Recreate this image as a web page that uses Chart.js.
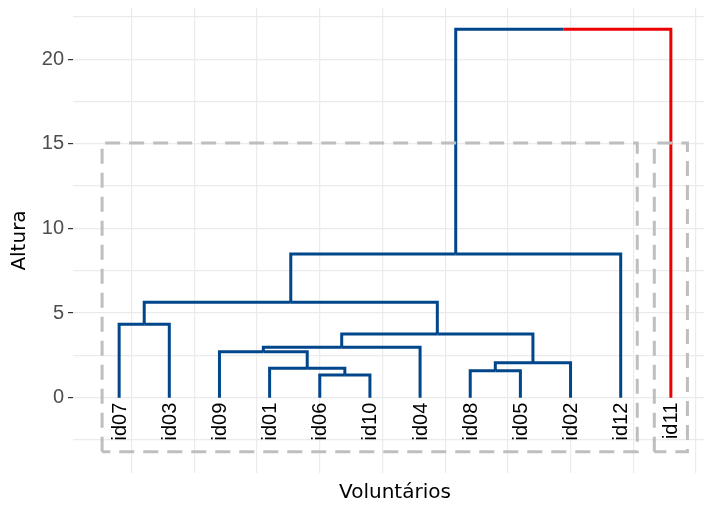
<!DOCTYPE html>
<html>
<head>
<meta charset="utf-8">
<title>Dendrograma</title>
<script src="https://cdn.jsdelivr.net/npm/chart.js@4.4.1/dist/chart.umd.min.js"></script>
<style>
  html, body { margin: 0; padding: 0; background: #ffffff; overflow: hidden; width: 704px; height: 505px; }
  #wrap { width: 717px; height: 505px; }
</style>
</head>
<body>
<div id="wrap"><canvas id="dend" width="717" height="505"></canvas></div>
<script>
// Leaves in dendrogram order (position 1..12 on the x axis)
const leafLabels = ['id07', 'id03', 'id09', 'id01', 'id06', 'id10', 'id04', 'id08', 'id05', 'id02', 'id12', 'id11'];
// Cluster of each leaf (k = 2)
const leafCluster = [0, 0, 0, 0, 0, 0, 0, 0, 0, 0, 0, 1];
const clusterColors = ['#00468B', '#ED0000'];

// Merge table, hclust style: negative = leaf position, positive = earlier merge row (1-based)
const mergeLeft   = [-5, -8, -4,   2, -3,  5,  6, -1,  8,  9,  10];
const mergeRight  = [-6, -9,  1, -10,  3, -7,  4, -2,  7, -11, -12];
const mergeHeight = [1.34, 1.59, 1.74, 2.07, 2.72, 2.98, 3.76, 4.34, 5.63, 8.49, 21.76];

// Cluster rectangles (data units)
const rectLeft   = [0.66, 11.67];
const rectRight  = [11.33, 12.33];
const rectTop    = [15.05, 15.05];
const rectBottom = [-3.2, -3.2];

// Axis ticks / grid positions
const yTicks = [-2.5, 0, 2.5, 5, 7.5, 10, 12.5, 15, 17.5, 20, 22.5];
const xGrid = [1.25, 2.5, 3.75, 5, 6.25, 7.5, 8.75, 10, 11.25, 12.5];

// Value at which the leaf labels end (just under the leaves)
const labelAnchor = -0.3;

// ---- build the dendrogram segments from the merge table ----
const nodePos = [], nodeH = [], nodeCol = [];
function child(ref) {
  if (ref < 0) {
    const i = -ref;
    return { x: i, h: 0, col: clusterColors[leafCluster[i - 1]] };
  }
  return { x: nodePos[ref - 1], h: nodeH[ref - 1], col: nodeCol[ref - 1] };
}

const branchSets = [];
for (let k = 0; k < mergeHeight.length; k++) {
  const a = child(mergeLeft[k]);
  const b = child(mergeRight[k]);
  const h = mergeHeight[k];
  const mid = (a.x + b.x) / 2;
  nodePos.push(mid);
  nodeH.push(h);
  nodeCol.push(a.col === b.col ? a.col : null);
  branchSets.push({
    data: [{ x: a.x, y: a.h }, { x: a.x, y: h }, { x: mid, y: h }],
    borderColor: a.col || clusterColors[0]
  });
  branchSets.push({
    data: [{ x: mid, y: h }, { x: b.x, y: h }, { x: b.x, y: b.h }],
    borderColor: b.col || clusterColors[0]
  });
}

const rectSets = rectLeft.map((l, i) => ({
  data: [
    { x: l, y: rectBottom[i] }, { x: l, y: rectTop[i] },
    { x: rectRight[i], y: rectTop[i] }, { x: rectRight[i], y: rectBottom[i] },
    { x: l, y: rectBottom[i] }
  ],
  borderColor: '#BEBEBE',
  borderWidth: 3,
  borderDash: [15, 9],
  borderCapStyle: 'butt',
  borderJoinStyle: 'miter'
}));

const datasets = [
  ...rectSets,
  ...branchSets.map(d => Object.assign(d, {
    borderWidth: 3,
    borderCapStyle: 'butt',
    borderJoinStyle: 'miter'
  }))
];

// Leaf labels, rotated, hanging below each leaf
const leafLabelPlugin = {
  id: 'leafLabels',
  afterDatasetsDraw(chart) {
    const { ctx, scales: { x, y } } = chart;
    ctx.save();
    ctx.font = '20px "Liberation Sans", Arial, sans-serif';
    ctx.fillStyle = '#000000';
    ctx.textAlign = 'right';
    ctx.textBaseline = 'middle';
    leafLabels.forEach((lab, i) => {
      ctx.save();
      ctx.translate(x.getPixelForValue(i + 1) + 1, y.getPixelForValue(labelAnchor));
      ctx.rotate(-Math.PI / 2);
      ctx.fillText(lab, 0, 0);
      ctx.restore();
    });
    ctx.restore();
  }
};

new Chart(document.getElementById('dend'), {
  type: 'line',
  data: { datasets },
  plugins: [leafLabelPlugin],
  options: {
    responsive: false,
    animation: false,
    layout: { padding: { top: 8, left: 0, right: 0, bottom: 0 } },
    elements: { point: { radius: 0, hoverRadius: 0 }, line: { tension: 0, fill: false } },
    plugins: { legend: { display: false }, tooltip: { enabled: false } },
    events: [],
    scales: {
      x: {
        type: 'linear',
        min: 0.08,
        max: 12.92,
        afterBuildTicks: s => { s.ticks = xGrid.map(v => ({ value: v })); },
        afterFit: s => { s.height = 32; s.paddingLeft = 0; s.paddingRight = 0; },
        ticks: { display: false },
        grid: { color: '#EBEBEB', lineWidth: 1.2, drawTicks: false },
        border: { display: false },
        title: {
          display: true,
          text: 'Voluntários',
          color: '#000000',
          font: { family: '"DejaVu Sans", sans-serif', size: 20 },
          padding: { top: 0, bottom: 0 }
        }
      },
      y: {
        type: 'linear',
        min: -4.45,
        max: 23.02,
        afterBuildTicks: s => { s.ticks = yTicks.map(v => ({ value: v })); },
        afterFit: s => { s.width = 73; s.paddingTop = 0; s.paddingBottom = 0; },
        ticks: {
          callback: v => (v % 5 === 0 ? String(v) : ''),
          color: '#4D4D4D',
          font: { family: '"Liberation Sans", Arial, sans-serif', size: 20 },
          padding: 4
        },
        grid: {
          color: '#EBEBEB',
          lineWidth: 1.2,
          tickLength: 5,
          tickColor: c => (c.tick && c.tick.value % 5 === 0 ? '#333333' : 'rgba(0,0,0,0)')
        },
        border: { display: false },
        title: {
          display: true,
          text: 'Altura',
          color: '#000000',
          font: { family: '"DejaVu Sans", sans-serif', size: 20 },
          padding: { top: 8, bottom: 0 }
        }
      }
    }
  }
});
</script>
</body>
</html>
